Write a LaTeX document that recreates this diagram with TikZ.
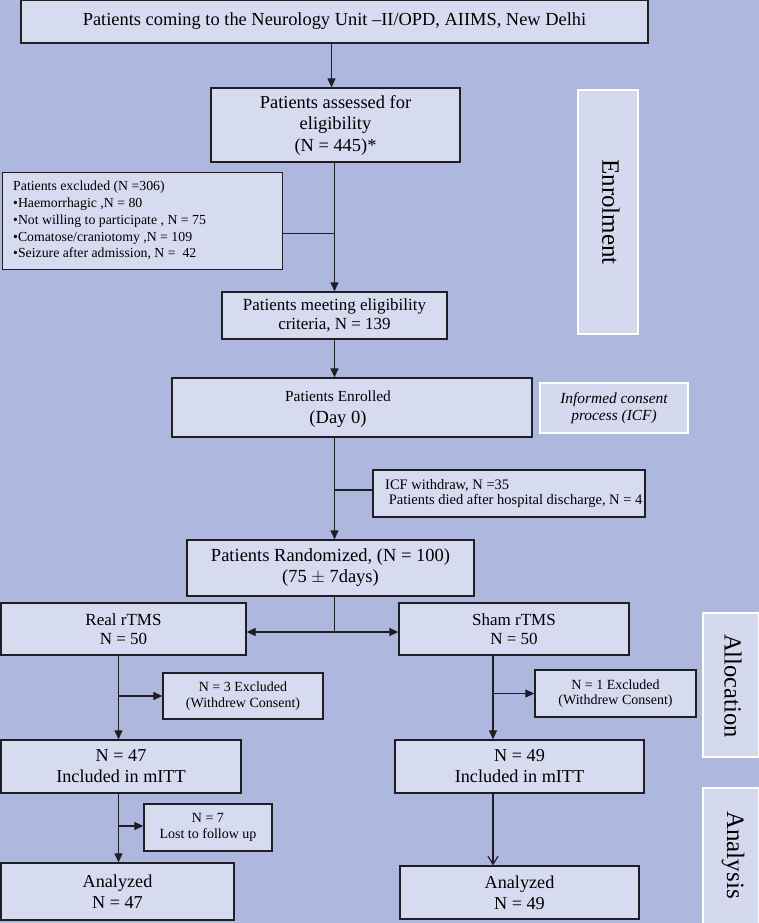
\documentclass[tikz,border=0pt]{standalone}
\usepackage{fontspec}
\setmainfont{Liberation Serif}
\usetikzlibrary{arrows.meta,calc}
\definecolor{bgc}{RGB}{174,184,223}
\definecolor{boxc}{RGB}{214,219,240}
\definecolor{sidec}{RGB}{212,217,238}
\definecolor{linec}{RGB}{30,30,35}
\newcommand{\fs}[2]{\fontsize{#1}{#2}\selectfont}
\tikzset{
  box/.style={draw=linec, line width=1.3pt, fill=boxc, inner sep=0pt, align=center},
  sidebox/.style={draw=white, line width=1.2pt, fill=sidec, inner sep=0pt, align=center},
  conn/.style={draw=linec, line width=1.2pt},
  arr/.style={conn, -{Triangle[length=9pt,width=8pt]}},
  oarr/.style={conn, -{Straight Barb[length=8pt,width=10pt]}},
  txt/.style={inner sep=0pt, align=center},
  big/.style={font=\fs{18.2}{21}},
  small/.style={font=\fs{14}{15.5}},
}
\begin{document}
\begin{tikzpicture}[x=1pt,y=-1pt]
\fill[bgc] (0,0) rectangle (759,923);
\useasboundingbox (0,0) rectangle (759,923);

% main boxes
\node[box, font=\fs{18.4}{20}, minimum width=627, minimum height=43] (top) at (334.5,21.5) {Patients coming to the Neurology Unit --II/OPD, AIIMS, New Delhi};
\node[box, font=\fs{18.4}{21.5}, minimum width=249, minimum height=74] (assess) at (335.5,125) {Patients assessed for\\ eligibility\\ (N = 445)*};
\node[box, minimum width=280, minimum height=97, anchor=north west] (excl) at (2,172) {};
\node[txt, anchor=north west, align=left, font=\fs{13.8}{16.8}] (excltxt) at (13,181) {Patients excluded (N =306)\\
\textbullet Haemorrhagic ,N = 80\\
\textbullet Not willing to participate , N = 75\\
\textbullet Comatose/craniotomy ,N = 109\\
\textbullet Seizure after admission, N =\ \ 42};
\node[box, font=\fs{17}{19}, minimum width=225, minimum height=47] (meet) at (334.5,315.5) {Patients meeting eligibility\\ criteria, N = 139};
\node[box, minimum width=360, minimum height=59] (enr) at (352,407.5) {};
\node[txt, font=\fs{15.4}{18}] (enrtxt1) at (338,396) {Patients Enrolled};
\node[txt, font=\fs{18.5}{20}] (enrtxt2) at (338,419) {(Day 0)};
\node[sidebox, font=\fs{15.4}{16.5}\itshape, minimum width=148, minimum height=50] (icf) at (614,408) {Informed consent\\ process (ICF)};
\node[box, minimum width=272, minimum height=47] (wd) at (509,493.5) {};
\node[txt, anchor=west, align=left, font=\fs{14.5}{15}] (wdtxt) at (385,494) {ICF withdraw, N =35\\ \ Patients died after hospital discharge, N = 4};
\node[box, font=\fs{18.5}{21}, minimum width=287, minimum height=56] (rand) at (330.5,568) {Patients Randomized, (N = 100)\\ (75 $\pm$ 7days)};

\node[box, font=\fs{17}{19.5}, minimum width=245, minimum height=52] (real) at (123.5,629) {Real rTMS\\ N = 50};
\node[box, font=\fs{17}{19.5}, minimum width=230, minimum height=52] (sham) at (514,629) {Sham rTMS\\ N = 50};
\node[box, small, minimum width=160, minimum height=46] (ex3) at (243,696) {N = 3 Excluded\\ (Withdrew Consent)};
\node[box, small, minimum width=161, minimum height=47] (ex1) at (615.5,693.5) {N = 1 Excluded\\ (Withdrew Consent)};
\node[box, big, minimum width=240, minimum height=53] (n47) at (121,766.5) {N = 47\\ Included in mITT};
\node[box, big, minimum width=249, minimum height=53] (n49) at (519.5,766.5) {N = 49\\ Included in mITT};
\node[box, font=\fs{14}{16.5}, minimum width=128, minimum height=47] (lost) at (208,827.5) {N = 7\\ Lost to follow up};
\node[box, big, minimum width=233, minimum height=57] (an47) at (117.5,891.5) {Analyzed\\ N = 47};
\node[box, big, minimum width=239, minimum height=53] (an49) at (519.5,892.5) {Analyzed\\ N = 49};

% side labels
\node[sidebox, minimum width=60, minimum height=244] (senr) at (608,212) {};
\node[txt, rotate=-90, font=\fs{25}{25}] (senrt) at (611,212) {Enrolment};
\node[sidebox, minimum width=56, minimum height=144] (salloc) at (731,685) {};
\node[txt, rotate=-90, font=\fs{24.5}{24.5}] (sallt) at (733,686) {Allocation};
\node[sidebox, minimum width=56, minimum height=140] (sana) at (731,858) {};
\node[txt, rotate=-90, font=\fs{25}{25}] (sanat) at (733,855) {Analysis};

% connectors
\draw[arr] ([xshift=-3pt]top.south) -- ([xshift=-3pt]top.south |- assess.north);
\draw[arr] (assess.south -| meet.north) -- (meet.north);
\draw[conn] ([yshift=-12.5pt]excl.east) -- ([yshift=-12.5pt]excl.east -| meet.north);
\draw[arr] (meet.south) -- (meet.south |- enr.north);
\draw[arr] (meet.south |- enr.south) -- (meet.south |- rand.north);
\draw[conn] ([yshift=3.5pt]wd.west -| meet.south) -- ([yshift=3.5pt]wd.west);
\coordinate (split) at ([yshift=-3pt]real.east -| meet.south);
\draw[conn] (meet.south |- rand.south) -- (split);
\draw[arr] (split) -- (split -| real.east);
\draw[arr] (split) -- (split -| sham.west);
\draw[arr] ([xshift=-5pt]real.south) -- ([xshift=-5pt]real.south |- n47.north);
\draw[arr] ([xshift=-5pt]real.south |- ex3.west) -- (ex3.west);
\draw[arr] ([xshift=-21pt]sham.south) -- ([xshift=-21pt]sham.south |- n49.north);
\draw[arr] ([xshift=-21pt]sham.south |- ex1.west) -- (ex1.west);
\draw[arr] ([xshift=-5pt]real.south |- n47.south) -- ([xshift=-5pt]real.south |- an47.north);
\draw[arr] ([xshift=-5pt,yshift=1.5pt]real.south |- lost.west) -- ([yshift=1.5pt]lost.west);
\draw[oarr] ([xshift=-21pt]sham.south |- n49.south) -- ([xshift=-21pt]sham.south |- an49.north);
\end{tikzpicture}
\end{document}
